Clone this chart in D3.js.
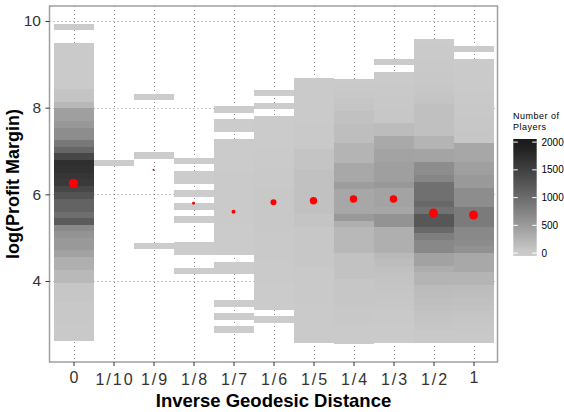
<!DOCTYPE html>
<html><head><meta charset="utf-8">
<script src="https://cdn.jsdelivr.net/npm/d3@7"></script>
<style>
body{margin:0;background:#fff}
svg{display:block}
text{font-family:"Liberation Sans",Arial,Helvetica,sans-serif}
</style>
</head><body>
<svg id="chart" width="564" height="412"></svg>
<script>
// ---------- data ----------
const categories = ["0","1/10","1/9","1/8","1/7","1/6","1/5","1/4","1/3","1/2","1"];
const binWidth = 0.1493;               // log(profit margin) bin width
// lowest bin edge (log profit margin) per category
const binStart = [2.615, 6.654, 4.732, 4.155, 2.807, 3.038, 2.562, 2.55, 2.562, 2.562, 2.562];
// players per bin, bottom to top (0 = empty bin)
const counts_0 = [25,25,25,40,40,40,55,55,55,185,185,290,290,420,520,520,570,680,1190,980,1100,1100,1290,1420,1600,1630,1700,1720,1420,1070,870,640,640,530,455,455,200,80,80,15,15,15,15,15,15,15,0,0,5];
const counts_1_10 = [2];
const counts_1_9 = [2,0,0,0,0,0,0,0,0,0,0,0,0,0,2,0,0,0,0,0,0,0,0,2];
const counts_1_8 = [2,0,0,2,2,0,0,0,2,0,2,0,2,0,2,2,0,2];
const counts_1_7 = [2,0,2,0,3,0,0,0,0,3,3,0,8,10,12,12,14,15,16,18,20,20,18,16,15,14,12,10,9,8,0,4,4,0,3];
const counts_1_6 = [3,0,8,10,12,14,16,18,20,22,25,28,30,32,35,38,40,42,40,38,35,32,30,27,24,20,17,14,12,10,8,6,0,3,0,3];
const counts_1_5 = [15,15,15,15,15,15,30,30,30,30,30,30,50,50,50,50,50,50,80,80,110,110,110,110,110,110,110,80,80,80,30,30,30,30,15,15,15,15,15,15,15];
const counts_1_4 = [20,20,20,35,35,35,60,60,60,60,100,100,100,100,200,200,200,200,290,520,375,375,375,375,480,360,360,360,235,235,235,140,140,140,110,110,65,55,40,25,15];
const counts_1_3 = [10,15,20,25,30,40,50,60,70,80,100,120,150,180,290,290,290,290,580,580,380,410,410,410,530,455,455,455,410,410,350,350,155,155,50,45,40,35,30,25,20,15,0,5];
const counts_1_2 = [30,40,55,70,90,110,130,150,170,235,235,310,420,420,700,700,800,1030,1240,1240,930,1050,960,960,960,720,640,640,400,400,235,235,120,120,120,120,120,80,60,50,40,35,30,25,20,15,10];
const counts_1 = [25,35,45,60,80,100,120,140,160,235,235,360,360,360,600,650,690,690,840,840,840,640,640,640,520,520,455,455,370,370,370,60,55,50,45,40,35,30,25,20,20,15,15,10,0,5];
const binCounts = [counts_0,counts_1_10,counts_1_9,counts_1_8,counts_1_7,counts_1_6,counts_1_5,counts_1_4,counts_1_3,counts_1_2,counts_1];
// mean log(profit margin) per category and number of players
const meanLogPM = [6.254, null, 6.568, 5.793, 5.599, 5.816, 5.853, 5.892, 5.892, 5.569, 5.523];
const players   = [25000, 1, 3, 9, 34, 395, 2180, 2500, 2500, 15400, 14000];
const yTicks = [4, 6, 8, 10];
const legendTicks = [0, 500, 1000, 1500, 2000];

// ---------- layout ----------
const P = {left: 49.5, right: 497.5, top: 6, bottom: 362};
const svg = d3.select("#chart");

const x = d3.scalePoint().domain(categories).range([P.left, P.right]).padding(0.6);
const step = x.step();
const y = d3.scaleLinear().domain([2.131, 10.346]).range([P.bottom, P.top]);
const color = d3.scaleLinear().domain([0, 2000]).range(["#cccccc", "#1a1a1a"])
  .interpolate(d3.interpolateLab).clamp(true);
const rScale = d3.scaleLog().domain([3, 25000]).range([1, 4.7]).clamp(true);

// tiles
const tiles = [];
categories.forEach((c, ci) => {
  binCounts[ci].forEach((n, i) => {
    if (n > 0) tiles.push({cat: c, y0: binStart[ci] + i * binWidth, y1: binStart[ci] + (i + 1) * binWidth, n});
  });
});

// grid
const grid = svg.append("g").attr("stroke", "#8a8a8a").attr("stroke-width", 1).attr("stroke-dasharray", "1,3");
grid.selectAll("line.v").data(categories).join("line").attr("class", "v")
  .attr("x1", d => Math.round(x(d)) + 0.5).attr("x2", d => Math.round(x(d)) + 0.5)
  .attr("y1", P.top).attr("y2", P.bottom);
grid.selectAll("line.h").data(yTicks).join("line").attr("class", "h")
  .attr("x1", P.left).attr("x2", P.right)
  .attr("y1", d => Math.round(y(d)) + 0.5).attr("y2", d => Math.round(y(d)) + 0.5);

// tiles
svg.append("g").attr("shape-rendering", "crispEdges")
  .selectAll("rect").data(tiles).join("rect")
  .attr("x", d => x(d.cat) - step / 2)
  .attr("width", step)
  .attr("y", d => y(d.y1))
  .attr("height", d => y(d.y0) - y(d.y1))
  .attr("fill", d => color(d.n));

// mean points
const pts = categories.map((c, i) => ({cat: c, m: meanLogPM[i], n: players[i]})).filter(d => d.m != null);
svg.append("g").selectAll("circle").data(pts).join("circle")
  .attr("cx", d => x(d.cat)).attr("cy", d => y(d.m))
  .attr("r", d => rScale(d.n)).attr("fill", "#ff0000");

// panel border
svg.append("rect").attr("x", P.left).attr("y", P.top)
  .attr("width", P.right - P.left).attr("height", P.bottom - P.top)
  .attr("fill", "none").attr("stroke", "#a0a0a0").attr("stroke-width", 1.5);

// axes
const yAxis = svg.append("g").attr("transform", `translate(${P.left},0)`)
  .call(d3.axisLeft(y).tickValues(yTicks).tickSize(4).tickPadding(4.5).tickFormat(d3.format("d")));
yAxis.select(".domain").remove();
yAxis.selectAll("line").attr("stroke", "#333");
yAxis.selectAll("text").attr("font-size", "15.5px").attr("fill", "#333")
  .style("font-family", '"Liberation Sans",Arial,sans-serif');

const xAxis = svg.append("g").attr("transform", `translate(0,${P.bottom})`)
  .call(d3.axisBottom(x).tickSize(4));
xAxis.select(".domain").remove();
xAxis.selectAll("line").attr("stroke", "#333");
xAxis.selectAll("text").attr("font-size", "16px").attr("fill", "#333")
  .style("font-family", '"Liberation Sans",Arial,sans-serif')
  .attr("letter-spacing", "2px")
  .attr("dy", null).attr("dx", 1)
  .attr("y", d => d.includes("/") ? 22.5 : 20.7);

// axis titles
svg.append("text").attr("x", (P.left + P.right) / 2).attr("y", 407)
  .attr("text-anchor", "middle").attr("font-weight", "bold").attr("font-size", "18.5px")
  .attr("fill", "#000").text("Inverse Geodesic Distance");
svg.append("text").attr("transform", `translate(19,${(P.top + P.bottom) / 2}) rotate(-90)`)
  .attr("text-anchor", "middle").attr("font-weight", "bold").attr("font-size", "18px")
  .attr("fill", "#000").text("log(Profit Margin)");

// legend
const L = {x: 513.3, w: 23.4, top: 139, bottom: 256};
const ly = d3.scaleLinear().domain([0, 2000]).range([253.1, 142.1]);
const defs = svg.append("defs");
const grad = defs.append("linearGradient").attr("id", "lg")
  .attr("x1", 0).attr("x2", 0).attr("y1", 1).attr("y2", 0);
const vLo = ly.invert(L.bottom), vHi = ly.invert(L.top);
d3.range(0, 21).forEach(k => {
  const v = vLo + (vHi - vLo) * k / 20;
  grad.append("stop").attr("offset", k / 20).attr("stop-color", color(v));
});
svg.append("rect").attr("x", L.x).attr("y", L.top).attr("width", L.w)
  .attr("height", L.bottom - L.top).attr("fill", "url(#lg)");
const lt = svg.append("g").attr("stroke", "#fff").attr("stroke-width", 1);
lt.selectAll("line.l").data(legendTicks).join("line").attr("class", "l")
  .attr("x1", L.x).attr("x2", L.x + 4.5).attr("y1", d => ly(d)).attr("y2", d => ly(d));
lt.selectAll("line.r").data(legendTicks).join("line").attr("class", "r")
  .attr("x1", L.x + L.w - 4.5).attr("x2", L.x + L.w).attr("y1", d => ly(d)).attr("y2", d => ly(d));
svg.append("g").selectAll("text").data(legendTicks).join("text")
  .attr("x", 541.5).attr("y", d => ly(d) + 3.6)
  .attr("font-size", "10px").attr("fill", "#000").text(d => d);
svg.append("text").attr("x", 513).attr("y", 119).attr("font-size", "9px")
  .attr("letter-spacing", "0.5px").attr("fill", "#000").text("Number of");
svg.append("text").attr("x", 513).attr("y", 130).attr("font-size", "9px")
  .attr("letter-spacing", "0.5px").attr("fill", "#000").text("Players");
</script>
</body></html>
